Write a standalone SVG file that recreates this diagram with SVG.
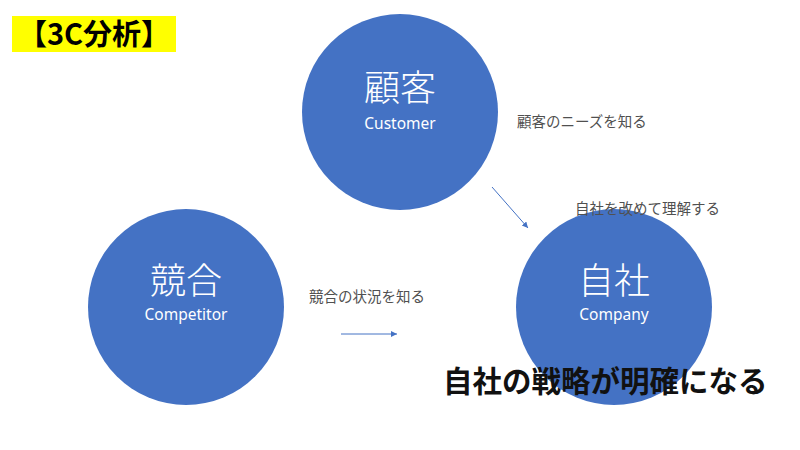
<svg xmlns="http://www.w3.org/2000/svg" width="800" height="450" viewBox="0 0 800 450">
<style>
.c{fill:#4472C4;}
.big{font-family:"Noto Sans CJK JP","Noto Sans",sans-serif;font-size:36px;font-weight:300;fill:#fff;text-anchor:middle;}
.en{font-family:"Noto Sans","Noto Sans CJK JP",sans-serif;font-size:15.5px;fill:#fff;text-anchor:middle;}
.lbl{font-family:"Noto Sans CJK JP",sans-serif;font-size:14.5px;fill:#505050;}
.ar{stroke:#4472C4;stroke-width:1;fill:none;marker-end:url(#ah);}
</style>
<defs>
<marker id="ah" markerWidth="8" markerHeight="8" refX="6" refY="3" orient="auto" markerUnits="userSpaceOnUse"><path d="M0,0 L6,3 L0,6 Z" fill="#4472C4"/></marker>
</defs>
<rect width="800" height="450" fill="#fff"/>
<g id="title">
<rect x="12" y="16" width="164" height="36" fill="#FFFF00"/>
<text x="94" y="45" font-family="Noto Sans CJK JP,sans-serif" font-size="29" font-weight="bold" text-anchor="middle" fill="#000">【3C分析】</text>
</g>
<g id="customer">
<circle class="c" cx="400" cy="112" r="98"/>
<text class="big" x="400" y="101">顧客</text>
<text class="en" x="400" y="129">Customer</text>
</g>
<g id="competitor">
<circle class="c" cx="186" cy="307" r="98"/>
<text class="big" x="186" y="294">競合</text>
<text class="en" x="186" y="320">Competitor</text>
</g>
<g id="company">
<circle class="c" cx="614" cy="307" r="98"/>
<text class="big" x="614" y="294">自社</text>
<text class="en" x="614" y="320">Company</text>
</g>
<g id="connectors">
<line class="ar" x1="492" y1="187" x2="528" y2="228"/>
<line class="ar" x1="341" y1="334" x2="397" y2="334"/>
</g>
<g id="labels">
<text class="lbl" x="517" y="127">顧客のニーズを知る</text>
<text class="lbl" x="575" y="214">自社を改めて理解する</text>
<text class="lbl" x="309" y="302">競合の状況を知る</text>
<text x="443" y="392" font-family="Noto Sans CJK JP,sans-serif" font-size="29.5" font-weight="bold" fill="#111">自社の戦略が明確になる</text>
</g>
</svg>
